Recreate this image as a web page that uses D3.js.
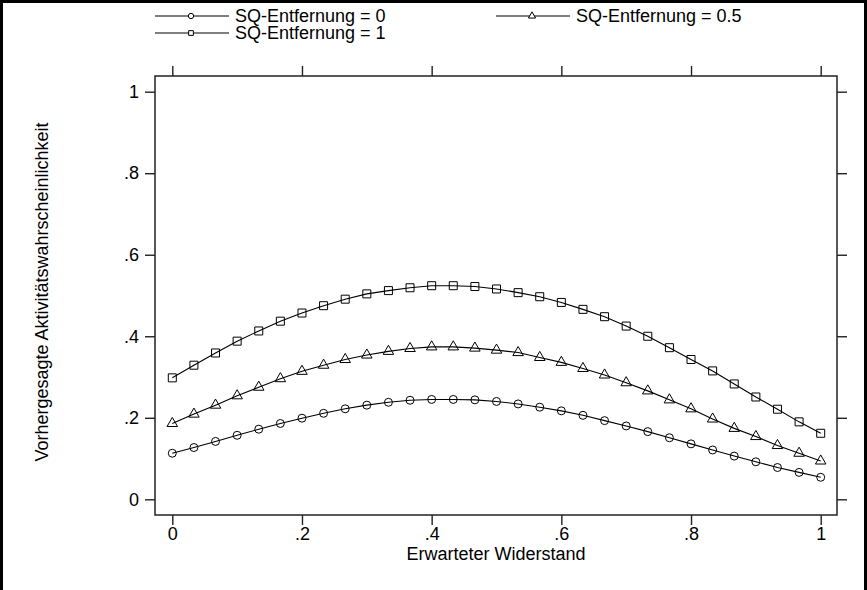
<!DOCTYPE html>
<meta charset="utf-8">
<style>
body { margin: 0; background: #fff; }
svg { display: block; font-family: "Liberation Sans", Arial, sans-serif; }
.axis path, .axis line { stroke: #222; stroke-width: 1.4; }
.axis text { font-size: 18px; fill: #000; }
</style>
<svg width="867" height="590"></svg>
<script src="https://d3js.org/d3.v7.min.js"></script>
<script>

// x grid: 31 points from 0 to 1
var xValues = d3.range(31).map(function(i) { return i / 30; });

var sq0 = [0.113, 0.127, 0.142, 0.157, 0.172, 0.186, 0.199, 0.211, 0.222, 0.231,
	0.238, 0.243, 0.245, 0.245, 0.244, 0.240, 0.234, 0.226, 0.217, 0.206,
	0.193, 0.180, 0.166, 0.151, 0.136, 0.121, 0.106, 0.092, 0.078, 0.066, 0.054];

var sq05 = [0.186, 0.209, 0.231, 0.254, 0.275, 0.296, 0.314, 0.329, 0.343, 0.354,
	0.363, 0.370, 0.374, 0.374, 0.371, 0.366, 0.360, 0.348, 0.336, 0.321,
	0.305, 0.286, 0.266, 0.244, 0.222, 0.197, 0.174, 0.154, 0.132, 0.113, 0.094];

var sq1 = [0.298, 0.329, 0.359, 0.388, 0.413, 0.437, 0.457, 0.475, 0.491, 0.504,
	0.512, 0.519, 0.524, 0.524, 0.522, 0.516, 0.507, 0.497, 0.483, 0.466,
	0.448, 0.425, 0.400, 0.372, 0.343, 0.315, 0.283, 0.251, 0.221, 0.190, 0.162];

var seriesNames = ["SQ-Entfernung = 0", "SQ-Entfernung = 0.5", "SQ-Entfernung = 1"];
var seriesSymbols = [d3.symbolCircle, d3.symbolTriangle, d3.symbolSquare];
var xTicks = [0, 0.2, 0.4, 0.6, 0.8, 1];
var yTicks = [0, 0.2, 0.4, 0.6, 0.8, 1];

var series = [sq0, sq05, sq1].map(function(vals, i) {
	return { name: seriesNames[i], symbol: seriesSymbols[i],
		points: vals.map(function(v, j) { return { x: xValues[j], y: v }; }) };
});

var svg = d3.select("svg"),
		width = +svg.attr("width"),
		height = +svg.attr("height");

// plot box
var box = { left: 155, right: 837, top: 76, bottom: 515 };

var x = d3.scaleLinear().domain([0, 1]).range([172.3, 820.7]);
var y = d3.scaleLinear().domain([0, 1]).range([499.3, 91.7]);

var fmt = function(d) { return d === 0 ? "0" : d === 1 ? "1" : String(+d.toFixed(1)).replace(/^0/, ""); };

// outer frame (bottom edge is cut off in the picture)
svg.append("path")
		.attr("d", "M1.5," + (height + 5) + "V1.5H865.5V" + (height + 5))
		.attr("fill", "none")
		.attr("stroke", "#000")
		.attr("stroke-width", 3);

// axes on all four sides
svg.append("g").attr("class", "axis")
		.attr("transform", "translate(0," + box.bottom + ")")
		.call(d3.axisBottom(x).tickValues(xTicks).tickFormat(fmt).tickSize(10).tickPadding(2))
		.call(function(g) { g.select(".domain").remove(); });

svg.append("g").attr("class", "axis")
		.attr("transform", "translate(0," + box.top + ")")
		.call(d3.axisTop(x).tickValues(xTicks).tickFormat("").tickSize(10))
		.call(function(g) { g.select(".domain").remove(); });

svg.append("g").attr("class", "axis")
		.attr("transform", "translate(" + box.left + ",0)")
		.call(d3.axisLeft(y).tickValues(yTicks).tickFormat(fmt).tickSize(10).tickPadding(6))
		.call(function(g) { g.select(".domain").remove(); });

svg.append("g").attr("class", "axis")
		.attr("transform", "translate(" + box.right + ",0)")
		.call(d3.axisRight(y).tickValues(yTicks).tickFormat("").tickSize(10))
		.call(function(g) { g.select(".domain").remove(); });

svg.append("rect")
		.attr("x", box.left)
		.attr("y", box.top)
		.attr("width", box.right - box.left)
		.attr("height", box.bottom - box.top)
		.attr("fill", "none")
		.attr("stroke", "#222")
		.attr("stroke-width", 1.5);

// lines and markers
var line = d3.line()
		.x(function(d) { return x(d.x); })
		.y(function(d) { return y(d.y); });

var g = svg.selectAll(".series")
	.data(series)
	.enter().append("g")
		.attr("class", "series");

g.append("path")
		.attr("d", function(d) { return line(d.points); })
		.attr("fill", "none")
		.attr("stroke", "#000")
		.attr("stroke-width", 1.1);

g.each(function(s) {
	var area = s.symbol === d3.symbolCircle ? 50 : s.symbol === d3.symbolTriangle ? 48 : 64;
	d3.select(this).selectAll(".pt")
		.data(s.points)
		.enter().append("path")
			.attr("class", "pt")
			.attr("transform", function(d) { return "translate(" + x(d.x) + "," + y(d.y) + ")"; })
			.attr("d", d3.symbol().type(s.symbol).size(area))
			.attr("fill", "none")
			.attr("stroke", "#000")
			.attr("stroke-width", 1);
});

// axis titles
svg.append("text")
		.attr("x", (box.left + box.right) / 2)
		.attr("y", 560)
		.attr("text-anchor", "middle")
		.attr("font-size", 18)
		.text("Erwarteter Widerstand");

svg.append("text")
		.attr("transform", "translate(48,292) rotate(-90)")
		.attr("text-anchor", "middle")
		.attr("font-size", 18)
		.text("Vorhergesagte Aktivitätswahrscheinlichkeit");

// legend: two columns, 0 and 0.5 on the first row, 1 on the second
var legendPos = [[155, 16], [496, 16], [155, 33]];
var legend = svg.selectAll(".legend")
	.data(series)
	.enter().append("g")
		.attr("class", "legend")
		.attr("transform", function(d, i) { return "translate(" + legendPos[i][0] + "," + legendPos[i][1] + ")"; });

legend.append("line")
		.attr("x1", 0).attr("x2", 74)
		.attr("stroke", "#000")
		.attr("stroke-width", 1.1);

legend.append("path")
		.attr("transform", "translate(36,0)")
		.attr("d", function(d) { return d3.symbol().type(d.symbol).size(22)(); })
		.attr("fill", "#fff")
		.attr("stroke", "#000")
		.attr("stroke-width", 1);

legend.append("text")
		.attr("x", 80)
		.attr("dy", "0.35em")
		.attr("font-size", 18)
		.text(function(d) { return d.name; });

</script>
